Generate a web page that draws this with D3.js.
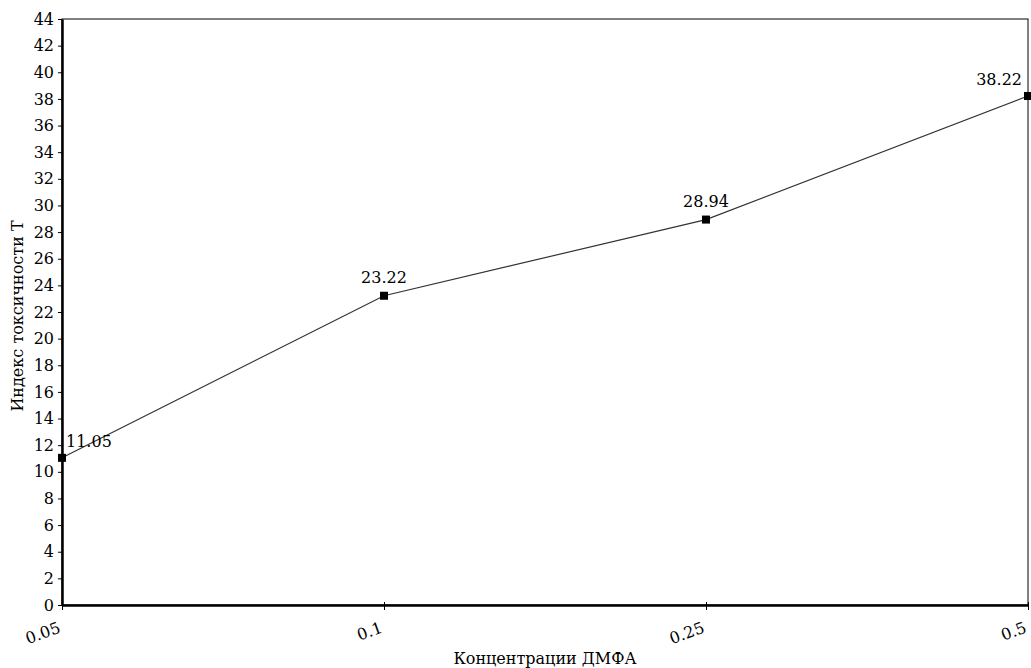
<!DOCTYPE html>
<html><head><meta charset="utf-8">
<script src="https://cdn.jsdelivr.net/npm/d3@7"></script>
<style>body{margin:0;background:#fff}
svg text{fill:#000}</style>
</head><body><svg id="c" width="1031" height="668"></svg>
<script>
const categories = ["0.05","0.1","0.25","0.5"];
const values = [11.05, 23.22, 28.94, 38.22];
const labels = ["11.05","23.22","28.94","38.22"];
const yTicks = d3.range(0, 45, 2);

const FONT = '"DejaVu Serif", serif';
const FS = 16;
const svg = d3.select("#c");
const L = 62, R = 1028, T = 19, B = 605;
const x = d3.scalePoint().domain(categories).range([L, R]).padding(0);
const y = d3.scaleLinear().domain([0, 44]).range([B, T]);

svg.append("rect").attr("x", L).attr("y", T).attr("width", R - L).attr("height", B - T)
  .attr("fill", "none").attr("stroke", "#000").attr("stroke-width", 1);

const ya = svg.append("g").attr("transform", `translate(${L},0)`)
  .call(d3.axisLeft(y).tickValues(yTicks).tickSize(4).tickPadding(4).tickSizeOuter(0));
ya.attr("font-family", FONT).attr("font-size", FS);
ya.select(".domain").attr("stroke-width", 2.5);

const xa = svg.append("g").attr("transform", `translate(0,${B})`)
  .call(d3.axisBottom(x).tickSize(5).tickSizeOuter(0));
xa.attr("font-family", FONT).attr("font-size", FS);
xa.select(".domain").attr("stroke-width", 2.5);
xa.selectAll(".tick line").attr("y1", -3);
xa.selectAll("text")
  .attr("text-anchor", "end").attr("x", 0).attr("y", 0).attr("dy", 0)
  .attr("transform", "translate(-1,27) rotate(-20)");

const line = d3.line().x((d, i) => x(categories[i])).y(d => y(d));
svg.append("path").datum(values).attr("d", line).attr("fill", "none")
  .attr("stroke", "#333").attr("stroke-width", 1.2);

svg.selectAll("rect.m").data(values).enter().append("rect").attr("class", "m")
  .attr("x", (d, i) => x(categories[i]) - 4).attr("y", d => y(d) - 4)
  .attr("width", 8).attr("height", 8).attr("fill", "#000");

const anchors = ["start", "middle", "middle", "end"];
const dxs = [4, 0, 0, -6];
const dys = [-11, -13, -13, -11];
svg.selectAll("text.lab").data(values).enter().append("text").attr("class", "lab")
  .attr("x", (d, i) => x(categories[i]) + dxs[i]).attr("y", (d, i) => y(d) + dys[i])
  .attr("text-anchor", (d, i) => anchors[i]).attr("font-family", FONT).attr("font-size", FS)
  .text((d, i) => labels[i]);

svg.append("text").attr("transform", `translate(23,${(T + B) / 2 + 4}) rotate(-90)`)
  .attr("text-anchor", "middle").attr("font-family", FONT).attr("font-size", FS).text("Индекс токсичности Т");
svg.append("text").attr("x", (L + R) / 2).attr("y", 664)
  .attr("text-anchor", "middle").attr("font-family", FONT).attr("font-size", FS).text("Концентрации ДМФА");
</script></body></html>
